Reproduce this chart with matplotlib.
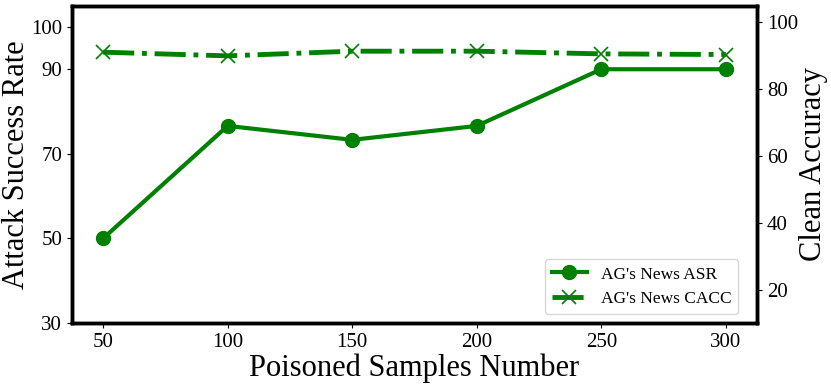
import matplotlib
matplotlib.use("Agg")
import matplotlib.pyplot as plt

samples = [50, 100, 150, 200, 250, 300]
asr = [50.0, 76.6, 73.3, 76.6, 90.0, 90.0]
cacc = [91.1, 90.0, 91.4, 91.4, 90.6, 90.4]
left_ticks = [30, 50, 70, 90, 100]
right_ticks = [20, 40, 60, 80, 100]

plt.rcParams['font.family'] = ['Liberation Serif', 'DejaVu Serif']

fig = plt.figure(figsize=(8.31, 3.85), dpi=100)
ax = fig.add_axes([0.0866, 0.161, 0.8244, 0.824])
ax2 = ax.twinx()

l1, = ax.plot(samples, asr, color='green', lw=3, marker='o', markersize=10,
              label="AG's News ASR")
l2, = ax2.plot(samples, cacc, color='green', lw=3.5, ls='-.', marker='x',
               markersize=10, markeredgewidth=1.2, label="AG's News CACC")

ax.set_ylim(30, 105)
ax.set_yticks(left_ticks)
ax2.set_ylim(10, 105)
ax2.set_yticks(right_ticks)
ax.set_xticks(samples)

ax.set_xlabel('Poisoned Samples Number', fontsize=22, labelpad=1)
ax.set_ylabel('Attack Success Rate', fontsize=22, labelpad=0)
ax2.set_ylabel('Clean Accuracy', fontsize=22, labelpad=1)
for a in (ax, ax2):
    a.tick_params(labelsize=15)
    for s in a.spines.values():
        s.set_linewidth(2.5)

ax2.legend([l1, l2], [l1.get_label(), l2.get_label()], loc='lower right',
           fontsize=12.5, handlelength=2.0, bbox_to_anchor=(0.985, 0.0))

fig.savefig('out.png', dpi=100)
